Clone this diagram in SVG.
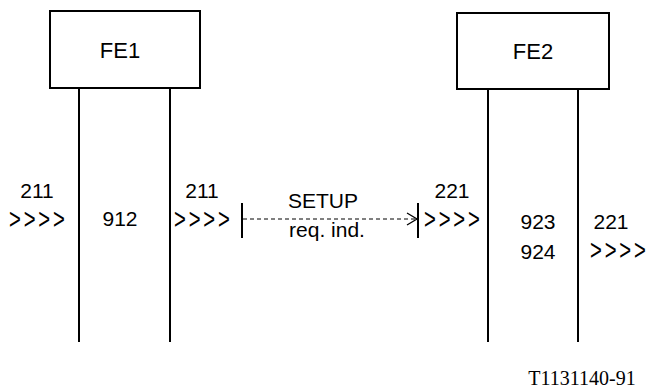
<svg xmlns="http://www.w3.org/2000/svg" width="648" height="389" viewBox="0 0 648 389">
<style>
.box{fill:#fff;stroke:#000;stroke-width:2}
.life{stroke:#000;stroke-width:2;fill:none}
.t{font-family:"Liberation Sans",Arial,sans-serif;font-size:21px;fill:#000}
.big{font-family:"Liberation Sans",Arial,sans-serif;font-size:22px;fill:#000}
.chev{font-family:"Liberation Sans",Arial,sans-serif;font-size:29px;fill:#000;letter-spacing:4px}
.bar{stroke:#000;stroke-width:2}
.dash{stroke:#000;stroke-width:1;stroke-dasharray:4 3;fill:none}
</style>
<rect width="648" height="389" fill="#fff"/>
<g id="FE1">
<line class="life" x1="79" y1="88" x2="79" y2="342"/>
<line class="life" x1="170" y1="88" x2="170" y2="342"/>
<rect class="box" x="50" y="11" width="150" height="77"/>
<text class="big" x="120" y="58" text-anchor="middle">FE1</text>
<text class="t" x="120" y="226" text-anchor="middle">912</text>
</g>
<g id="FE2">
<line class="life" x1="488" y1="89" x2="488" y2="342"/>
<line class="life" x1="578" y1="89" x2="578" y2="342"/>
<rect class="box" x="457" y="13" width="152" height="76"/>
<text class="big" x="533" y="59" text-anchor="middle">FE2</text>
<text class="t" x="538" y="229" text-anchor="middle">923</text>
<text class="t" x="538" y="259" text-anchor="middle">924</text>
</g>
<g id="connectors">
<text class="t" x="37" y="198" text-anchor="middle">211</text>
<text class="chev" transform="translate(9,229) scale(0.7,1)">&gt;&gt;&gt;&gt;</text>
<text class="t" x="202" y="198" text-anchor="middle">211</text>
<text class="chev" transform="translate(174,229) scale(0.7,1)">&gt;&gt;&gt;&gt;</text>
<line class="bar" x1="242" y1="203" x2="242" y2="238"/>
<line class="dash" x1="243" y1="219" x2="416" y2="219"/>
<polyline points="407,213 417,219 407,225" fill="none" stroke="#000" stroke-width="1.3"/>
<line class="bar" x1="418" y1="203" x2="418" y2="238"/>
<text class="t" x="323" y="208" text-anchor="middle">SETUP</text>
<text class="t" x="327" y="237" text-anchor="middle">req. ind.</text>
<text class="t" x="452" y="198" text-anchor="middle">221</text>
<text class="chev" transform="translate(424,229) scale(0.7,1)">&gt;&gt;&gt;&gt;</text>
<text class="t" x="611" y="229" text-anchor="middle">221</text>
<text class="chev" transform="translate(590,260) scale(0.7,1)">&gt;&gt;&gt;&gt;</text>
</g>
<text x="582" y="385" text-anchor="middle" font-family="Liberation Serif,'Times New Roman',serif" font-size="20">T1131140-91</text>
</svg>
